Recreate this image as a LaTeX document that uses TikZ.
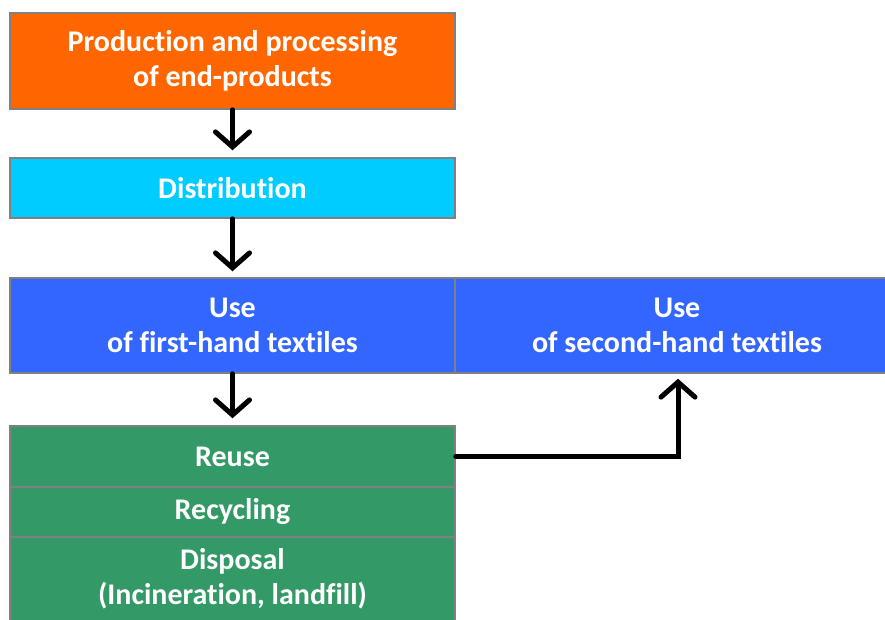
\documentclass[tikz,border=0pt]{standalone}
\usepackage{fontspec}
\setmainfont[Ligatures = NoCommon]{Carlito}
\usetikzlibrary{arrows.meta}
\definecolor{prodorange}{HTML}{FF6600}
\definecolor{distcyan}{HTML}{00CCFF}
\definecolor{useblue}{HTML}{3366FF}
\definecolor{endgreen}{HTML}{339966}
\tikzset{
    stagebox/.style = {draw = gray, line width = 1.5pt, text = white, align = center,
        font = \fontsize{30}{35}\selectfont\bfseries, inner sep = 0pt},
    flow/.style = {line width = 5pt, line cap = round, line join = miter,
        -{Straight Barb[length = 15pt, width = 34pt, line cap = round]}}
}
\begin{document}
\begin{tikzpicture}[x = 1pt, y = -1pt]
        \useasboundingbox[fill = white] (0, 0) rectangle (885, 619);

        \node[stagebox, fill = prodorange, minimum width = 445pt, minimum height = 96pt] (prod) at (232.5, 61)
            {Production and processing \\ of end-products};
        \node[stagebox, fill = distcyan, minimum width = 445pt, minimum height = 60pt] (dist) at (232.5, 188)
            {Distribution};
        \node[stagebox, fill = useblue, minimum width = 445pt, minimum height = 95pt] (first) at (232.5, 325.5)
            {Use \\ of first-hand textiles};
        \node[stagebox, fill = useblue, minimum width = 444pt, minimum height = 95pt] (second) at (677, 325.5)
            {Use \\ of second-hand textiles};

        \node[stagebox, fill = endgreen, minimum width = 445pt, minimum height = 61pt] (reuse) at (232.5, 456.5)
            {Reuse};
        \node[stagebox, fill = endgreen, minimum width = 445pt, minimum height = 50pt] (recycle) at (232.5, 512)
            {Recycling};
        \node[stagebox, fill = endgreen, minimum width = 445pt, minimum height = 84pt] (dispose) at (232.5, 579)
            {Disposal \\ (Incineration, landfill)};

        \draw[flow, shorten >= 7pt] (prod) -- (dist);
        \draw[flow, shorten >= 6pt] (dist) -- (first);
        \draw[flow, shorten >= 7pt] (first) -- (reuse);
        \draw[flow, shorten >= 5pt] (reuse.east) -| ([xshift = 1pt]second.south);
    \end{tikzpicture}
\end{document}
